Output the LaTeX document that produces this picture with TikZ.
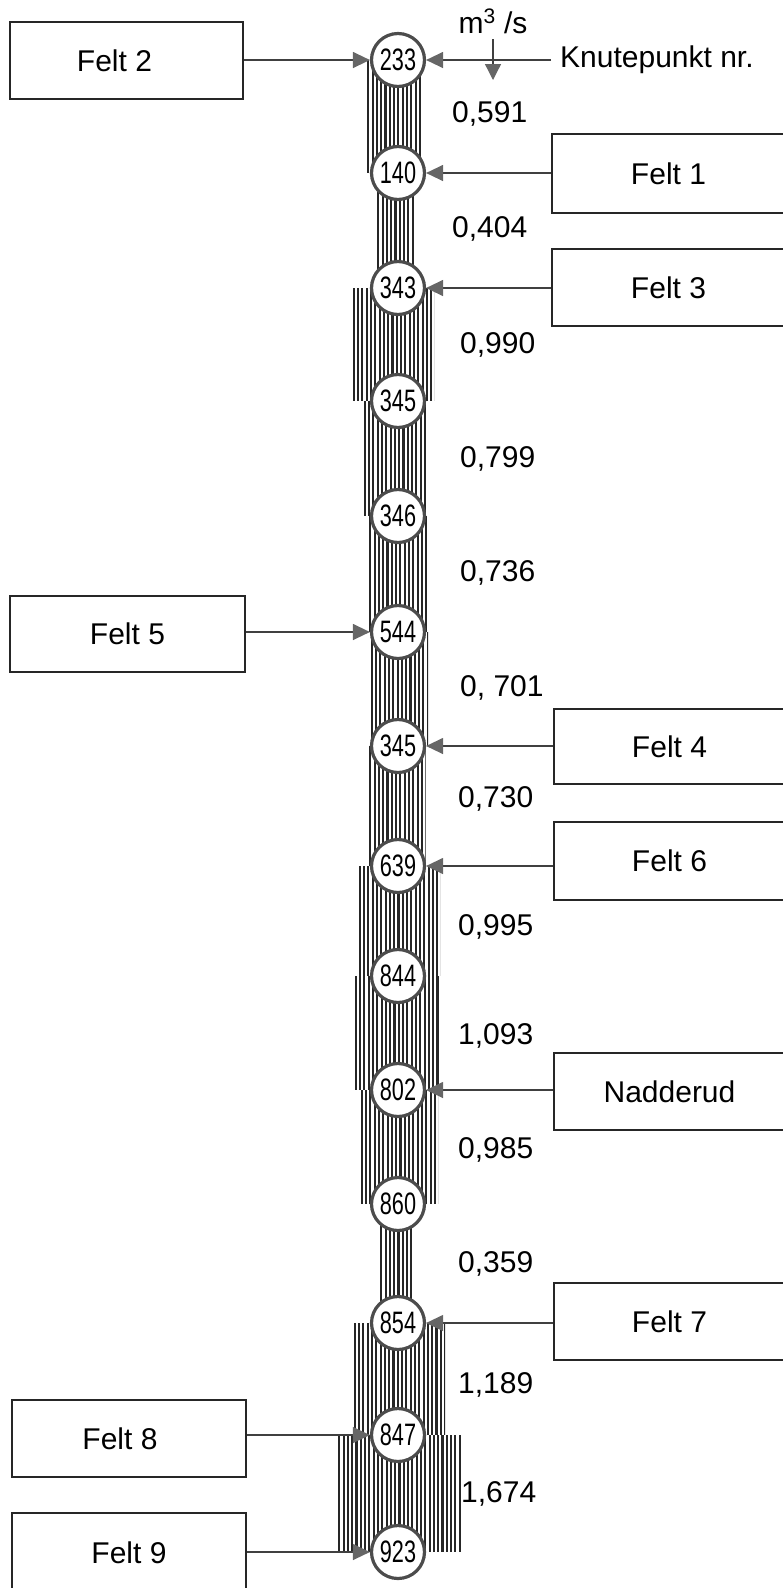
\documentclass[tikz,border=0pt]{standalone}
\usepackage{fontspec}
\usepackage{graphicx}
\setmainfont{Liberation Sans}
\usetikzlibrary{arrows.meta,calc,backgrounds}
\newcommand\lbl{\fontsize{30}{34}\selectfont}
\newcommand\knotfont{\fontsize{31}{32}\selectfont}
\newcommand\kn[1]{\scalebox{0.7}[1]{#1}}
\tikzset{
  box/.style={draw=black!85, line width=1.5pt, inner sep=0pt, font=\lbl},
  knot/.style={circle, draw=black!70, line width=3.2pt, fill=white, minimum size=53pt, inner sep=0pt, font=\knotfont},
  feed/.style={draw=black!75, line width=1.3pt, -{Triangle[length=17pt,width=16pt,color=black!60]}},
  flow/.style={anchor=west, inner sep=0pt, font=\lbl},
  hatchline/.style={draw=black!85, line width=2.1pt},
}
% band between two knots: #1 #2 nodes, #3 width, #4 x offset
\newcommand\hatchband[4]{%
  \path[path picture={%
      \foreach \k in {0,...,34}{%
        \draw[hatchline] ([xshift=1.8pt+\k*4.3pt]path picture bounding box.north west) --
                         ([xshift=1.8pt+\k*4.3pt]path picture bounding box.south west);}}]
    ($(#1.center)+(#4-#3/2,0)$) rectangle ($(#2.center)+(#4+#3/2,0)$);}
\begin{document}
\begin{tikzpicture}[x=1pt,y=-1pt]
\useasboundingbox (0,0) rectangle (783,1588);

% knots
\node[knot] (n233) at (398,60) {\kn{233}};
\node[knot] (n140) at (398,173) {\kn{140}};
\node[knot] (n343) at (398,288) {\kn{343}};
\node[knot] (n345) at (398,401) {\kn{345}};
\node[knot] (n346) at (398,516) {\kn{346}};
\node[knot] (n544) at (398,632) {\kn{544}};
\node[knot] (n345b) at (398,746) {\kn{345}};
\node[knot] (n639) at (398,866) {\kn{639}};
\node[knot] (n844) at (398,976) {\kn{844}};
\node[knot] (n802) at (398,1090) {\kn{802}};
\node[knot] (n860) at (398,1204) {\kn{860}};
\node[knot] (n854) at (398,1323) {\kn{854}};
\node[knot] (n847) at (398,1435) {\kn{847}};
\node[knot] (n923) at (398,1552) {\kn{923}};

% hatched flow bands
\begin{scope}[on background layer]
\hatchband{n233}{n140}{55}{-4}
\hatchband{n140}{n343}{39}{-2}
\hatchband{n343}{n345}{82}{-5}
\hatchband{n345}{n346}{64}{-3}
\hatchband{n346}{n544}{59}{0}
\hatchband{n544}{n345b}{58}{1}
\hatchband{n345b}{n639}{57}{-1}
\hatchband{n639}{n844}{82}{1}
\hatchband{n844}{n802}{86}{-1}
\hatchband{n802}{n860}{78}{1}
\hatchband{n860}{n854}{35}{-1}
\hatchband{n854}{n847}{92}{1}
\hatchband{n847}{n923}{125}{2}
\end{scope}

% boxes
\node[box, minimum width=233pt, minimum height=77pt] (felt2) at (126.5,60.5) {Felt 2\hspace*{24pt}};
\node[box, minimum width=233pt, minimum height=79pt] (felt1) at (668.5,173.5) {Felt 1};
\node[box, minimum width=233pt, minimum height=77pt] (felt3) at (668.5,287.5) {Felt 3};
\node[box, minimum width=235pt, minimum height=76pt] (felt5) at (127.5,634) {Felt 5};
\node[box, minimum width=231pt, minimum height=75pt] (felt4) at (669.5,746.5) {Felt 4};
\node[box, minimum width=231pt, minimum height=78pt] (felt6) at (669.5,861) {Felt 6};
\node[box, minimum width=231pt, minimum height=77pt] (nadd) at (669.5,1091.5) {Nadderud};
\node[box, minimum width=231pt, minimum height=77pt] (felt7) at (669.5,1321.5) {Felt 7};
\node[box, minimum width=234pt, minimum height=77pt] (felt8) at (129,1438.5) {Felt 8\hspace*{18pt}};
\node[box, minimum width=234pt, minimum height=79pt] (felt9) at (129,1552.5) {Felt 9};

% legend
\node[font=\lbl, inner sep=0pt, anchor=base] (unit) at (493,33) {m\textsuperscript{3} /s};
\node[font=\lbl, inner sep=0pt, anchor=west] (knp) at (560,60) {Knutepunkt nr.};
\coordinate (flowtip) at (493,80);

% feeding arrows
\draw[feed] (felt2.east |- n233) -- (n233.west);
\draw[feed] ([xshift=-9pt]knp.west) -- (n233.east);
\draw[feed, -{Triangle[length=16pt,width=16pt,color=black!60]}] ([yshift=-6pt]unit.south) -- (flowtip);
\draw[feed] (felt1.west |- n140) -- (n140.east);
\draw[feed] (felt3.west |- n343) -- (n343.east);
\draw[feed] (felt5.east |- n544) -- (n544.west);
\draw[feed] (felt4.west |- n345b) -- (n345b.east);
\draw[feed] (felt6.west |- n639) -- (n639.east);
\draw[feed] (nadd.west |- n802) -- (n802.east);
\draw[feed] (felt7.west |- n854) -- (n854.east);
\draw[feed] (felt8.east |- n847) -- (n847.west);
\draw[feed] (felt9.east |- n923) -- (n923.west);

% flow values
\node[flow] (q1) at (452,114) {0,591};
\node[flow] (q2) at (452,229) {0,404};
\node[flow] (q3) at (460,345) {0,990};
\node[flow] (q4) at (460,459) {0,799};
\node[flow] (q5) at (460,573) {0,736};
\node[flow] (q6) at (460,688) {0, 701};
\node[flow] (q7) at (458,799) {0,730};
\node[flow] (q8) at (458,927) {0,995};
\node[flow] (q9) at (458,1036) {1,093};
\node[flow] (q10) at (458,1150) {0,985};
\node[flow] (q11) at (458,1264) {0,359};
\node[flow] (q12) at (458,1385) {1,189};
\node[flow] (q13) at (461,1494) {1,674};
\end{tikzpicture}
\end{document}
